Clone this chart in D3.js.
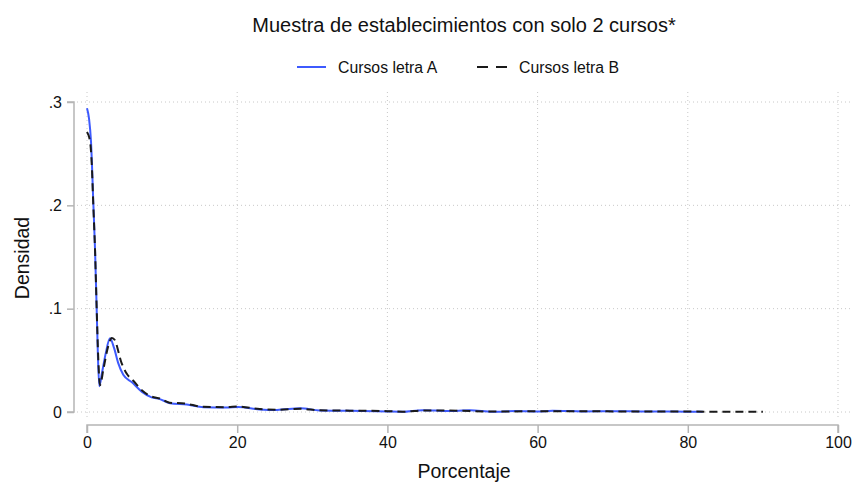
<!DOCTYPE html>
<html>
<head>
<meta charset="utf-8">
<script src="https://cdn.jsdelivr.net/npm/d3@7"></script>
<style>
  html, body { margin: 0; padding: 0; background: #fff; }
  svg { display: block; font-family: "Liberation Sans", Arial, Helvetica, sans-serif; }
</style>
</head>
<body>
<svg id="chart" width="854" height="483"></svg>
<script>
// ---- Data ----
const title = "Muestra de establecimientos con solo 2 cursos*";
const xLabel = "Porcentaje";
const yLabel = "Densidad";
const seriesNames = ["Cursos letra A", "Cursos letra B"];
const xTicks = [0, 20, 40, 60, 80, 100];
const yTicks = [0, 0.1, 0.2, 0.3];
const yTickLabels = ["0", ".1", ".2", ".3"];

const cursosA = [
  [0, .294], [0.27, .284], [0.53, .262], [0.84, .203], [1.07, .157], [1.29, .099],
  [1.45, .055], [1.64, .025], [2.0, .038], [2.5, .057], [3.06, .0713], [3.6, .062],
  [4.17, .047], [4.83, .036], [5.95, .029], [7.28, .0197], [8.6, .0142], [9.7, .0125],
  [11.05, .0085], [13.3, .0072], [15.5, .0047], [18.6, .0043], [20.1, .0048], [23, .0025],
  [25.3, .002], [28.4, .0036], [31, .0015], [35, .0012], [40, .0005], [42, .0002],
  [44.7, .0018], [48, .001], [51, .0016], [54, .0003], [57, .0009], [60, .0004],
  [62, .0011], [66, .0006], [70, .0008], [74, .0005], [78, .0004], [82, .0003]
];
const cursosB = [
  [0, .271], [0.4, .262], [0.62, .242], [0.84, .2], [1.07, .157], [1.29, .1],
  [1.5, .052], [1.73, .026], [2.2, .042], [2.8, .063], [3.3, .0715], [3.63, .0703],
  [4.62, .047], [5.3, .037], [6.2, .03], [7.3, .021], [8.6, .015], [9.7, .013],
  [11, .009], [13, .0082], [15.5, .005], [18.6, .0047], [20.1, .0053], [23, .0028],
  [25.3, .0022], [28.4, .0031], [31, .0016], [35, .0013], [40, .0008], [42, .0003],
  [45, .0015], [50, .0012], [54, .0004], [60, .0008], [65, .0008], [70, .0006],
  [75, .0005], [80, .0004], [85, .0003], [90, .0002]
];

// ---- Layout ----
const svg = d3.select("#chart");
const x = d3.scaleLinear().domain([0, 100]).range([87, 838]);
const y = d3.scaleLinear().domain([0, 0.3]).range([412, 102]);
const plotL = 77, plotR = 851, plotT = 92, plotB = 420;
const blue = "#3d5afe";
const dark = "#1a1a1a";
const axisGrey = "#b5b5b5";

// gridlines
svg.append("g").selectAll("line.h").data(yTicks).join("line")
  .attr("x1", plotL).attr("x2", plotR)
  .attr("y1", d => y(d)).attr("y2", d => y(d))
  .attr("stroke", "#c8c8c8").attr("stroke-width", 1).attr("stroke-dasharray", "1,3");
svg.append("g").selectAll("line.v").data(xTicks).join("line")
  .attr("y1", plotT).attr("y2", plotB)
  .attr("x1", d => x(d)).attr("x2", d => x(d))
  .attr("stroke", "#c8c8c8").attr("stroke-width", 1).attr("stroke-dasharray", "1,3");

// y axis
const yAxis = d3.axisLeft(y).tickValues(yTicks).tickSize(7).tickPadding(5)
  .tickFormat((d, i) => yTickLabels[i]);
const gy = svg.append("g").attr("transform", "translate(74,0)").call(yAxis);
gy.select(".domain").attr("stroke", axisGrey).attr("stroke-width", 1.5).attr("d", `M-7,${y(0.3)}H0V${y(0)}H-7`);
gy.selectAll(".tick line").attr("stroke", axisGrey).attr("stroke-width", 1.5);
gy.selectAll(".tick text").attr("font-size", 16).attr("fill", "#111")
  .attr("font-family", "Liberation Sans, Arial, sans-serif");

// x axis
const xAxis = d3.axisBottom(x).tickValues(xTicks).tickSize(8).tickPadding(4);
const gx = svg.append("g").attr("transform", "translate(0,425)").call(xAxis);
gx.select(".domain").attr("stroke", axisGrey).attr("stroke-width", 1.5).attr("d", `M${x(0)},8V0H${x(100)}V8`);
gx.selectAll(".tick line").attr("stroke", axisGrey).attr("stroke-width", 1.5);
gx.selectAll(".tick text").attr("font-size", 16).attr("fill", "#111")
  .attr("font-family", "Liberation Sans, Arial, sans-serif");

// lines
const line = d3.line().x(d => x(d[0])).y(d => y(d[1])).curve(d3.curveMonotoneX);
svg.append("path").datum(cursosA).attr("d", line)
  .attr("fill", "none").attr("stroke", blue).attr("stroke-width", 2);
svg.append("path").datum(cursosB).attr("d", line)
  .attr("fill", "none").attr("stroke", dark).attr("stroke-width", 2)
  .attr("stroke-dasharray", "8,5");

// title
svg.append("text").attr("x", 464).attr("y", 32).attr("text-anchor", "middle")
  .attr("font-size", 20).attr("fill", "#111").text(title);

// legend
const legY = 67;
svg.append("line").attr("x1", 297).attr("x2", 326).attr("y1", legY).attr("y2", legY)
  .attr("stroke", blue).attr("stroke-width", 2);
svg.append("text").attr("x", 338).attr("y", legY + 5.5).attr("font-size", 15.8).attr("fill", "#111").text(seriesNames[0]);
svg.append("line").attr("x1", 477).attr("x2", 507).attr("y1", legY).attr("y2", legY)
  .attr("stroke", dark).attr("stroke-width", 2).attr("stroke-dasharray", "11,8");
svg.append("text").attr("x", 519).attr("y", legY + 5.5).attr("font-size", 15.8).attr("fill", "#111").text(seriesNames[1]);

// axis titles
svg.append("text").attr("x", 464).attr("y", 478).attr("text-anchor", "middle")
  .attr("font-size", 19.5).attr("fill", "#111").text(xLabel);
svg.append("text").attr("transform", "translate(29,258) rotate(-90)").attr("text-anchor", "middle")
  .attr("font-size", 19.5).attr("fill", "#111").text(yLabel);
</script>
</body>
</html>
